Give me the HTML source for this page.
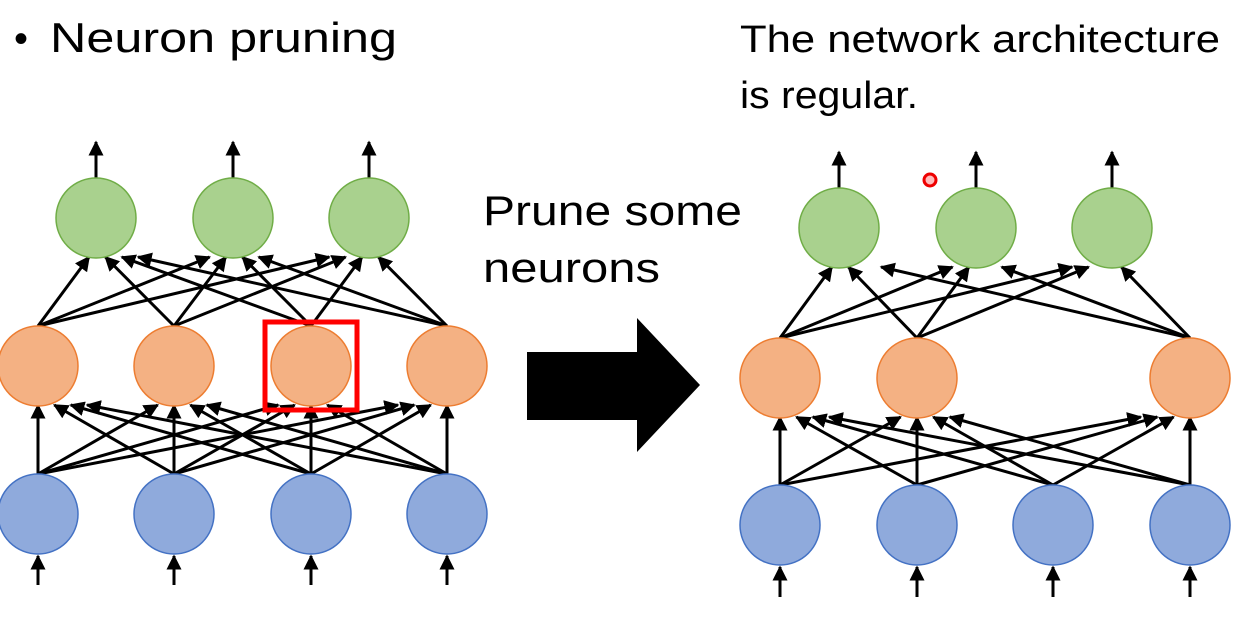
<!DOCTYPE html>
<html><head><meta charset="utf-8"><style>
body{margin:0;background:#fff;width:1240px;height:633px;overflow:hidden}
svg{display:block}
text{font-family:"Liberation Sans","DejaVu Sans",sans-serif;fill:#000}
</style></head><body>
<svg id="s" width="1240" height="633" xmlns="http://www.w3.org/2000/svg">
<defs><marker id="a" viewBox="0 0 10 10" refX="9" refY="5" markerWidth="5" markerHeight="5" orient="auto"><path d="M0,0L10,5L0,10z" fill="#000"/></marker></defs>
<text x="14" y="52" font-size="40">•</text>
<text x="50" y="52" font-size="42" textLength="347" lengthAdjust="spacingAndGlyphs">Neuron pruning</text>
<text x="740" y="52" font-size="38" textLength="480" lengthAdjust="spacingAndGlyphs">The network architecture</text>
<text x="740" y="108" font-size="38" textLength="178" lengthAdjust="spacingAndGlyphs">is regular.</text>
<text x="483" y="225" font-size="42" textLength="259" lengthAdjust="spacingAndGlyphs">Prune some</text>
<text x="483" y="282" font-size="42" textLength="177" lengthAdjust="spacingAndGlyphs">neurons</text>
<path d="M527,352H637V318L700,385L637,452V420H527z" fill="#000"/>
<circle cx="930" cy="180" r="6" fill="#fbb" stroke="#e00" stroke-width="3"/>
<g id="g"></g>
</svg>
<script>
var g=document.getElementById('g'),NS='http://www.w3.org/2000/svg',R=40;
function el(t,a){var e=document.createElementNS(NS,t);for(var k in a)e.setAttribute(k,a[k]);g.appendChild(e);return e;}
function ln(x1,y1,x2,y2){el('line',{x1:x1,y1:y1,x2:x2,y2:y2,stroke:'#000','stroke-width':3,'marker-end':'url(#a)'});}
function circ(x,y,f,s){el('circle',{cx:x,cy:y,r:R,fill:f,stroke:s,'stroke-width':1.5});}
function net(G,O,B,gy,oy,by,topA,botA){
 O.forEach(function(o){G.forEach(function(t){ln(o,oy-R,t+(o-t)*0.12,gy+R-1);});});
 B.forEach(function(b){O.forEach(function(t){ln(b,by-R,t+(b-t)*0.12,oy+R-1);});});
 G.forEach(function(x){ln(x,gy-R,x,topA);});
 B.forEach(function(x){ln(x,botA,x,by+R+2);});
 G.forEach(function(x){circ(x,gy,'#a9d18e','#70ad47');});
 O.forEach(function(x){circ(x,oy,'#f4b183','#ed7d31');});
 B.forEach(function(x){circ(x,by,'#8faadc','#4472c4');});
}
net([96,233,369],[38,174,311,447],[38,174,311,447],218,366,514,142,585);
net([839,976,1112],[780,917,1190],[780,917,1053,1190],228,378,525,152,597);
el('rect',{x:265,y:322,width:92,height:88,fill:'none',stroke:'#f00','stroke-width':5});
</script>
</body></html>
